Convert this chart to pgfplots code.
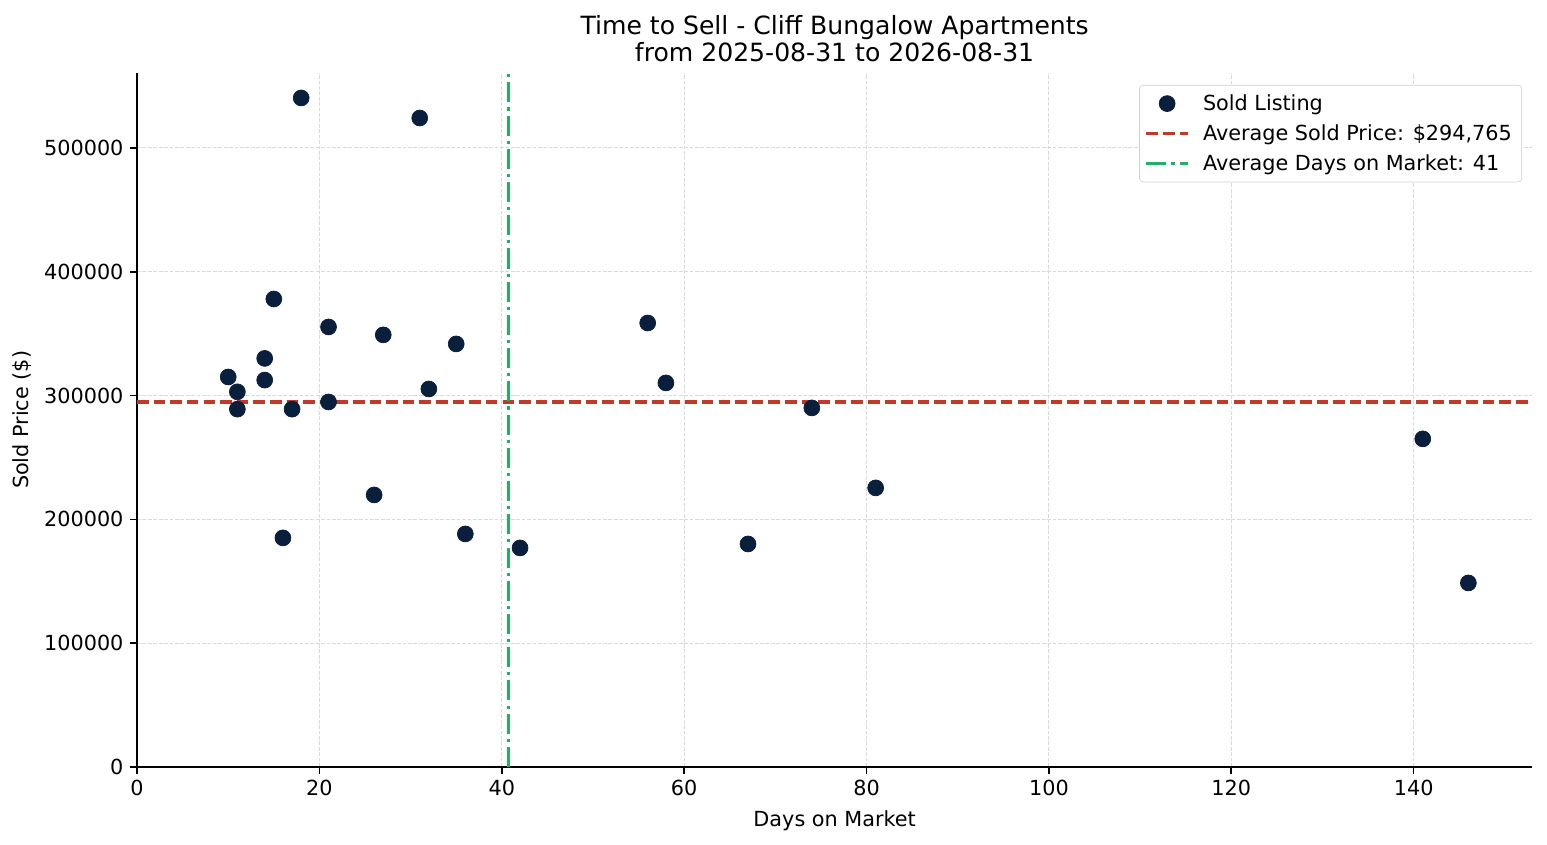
\documentclass[border=0pt]{standalone}
\usepackage{pgfplots}
\pgfplotsset{compat=1.18}
\usepackage{fontspec}
\setmainfont{DejaVu Sans}
\setsansfont{DejaVu Sans}
\definecolor{navy}{HTML}{0A1F3C}
\definecolor{avgred}{HTML}{C0392B}
\definecolor{avggreen}{HTML}{27AE60}
\definecolor{gridgray}{HTML}{DADADA}

\tikzset{
  redavg/.style={avgred, line width=1.7pt, dash pattern=on 6.4pt off 2.8pt},
  greenavg/.style={avggreen, line width=1.7pt, dash pattern=on 11.1pt off 2.8pt on 1.7pt off 2.8pt},
}

\begin{document}
\begin{tikzpicture}
  % page = 1547 x 845 px at 0.5538 pt per px
  \useasboundingbox (-75.9pt,-43.2pt) rectangle (780.8pt,424.7pt);
  \begin{axis}[
    scale only axis,
    width=772.6pt,
    height=384.3pt,
    xmin=0, xmax=153,
    ymin=0, ymax=560600,
    xtick={0,20,...,140},
    ytick={0,100000,...,500000},
    scaled y ticks=false,
    axis x line*=bottom,
    axis y line*=left,
    axis line style={line width=0.9pt},
    tick align=outside,
    major tick length=4pt,
    every tick/.style={black,line width=0.9pt},
    /pgf/number format/assume math mode=true,
    yticklabel style={/pgf/number format/.cd,fixed,precision=0,1000 sep={}},
    ticklabel style={font=\fontsize{11.5}{14}\selectfont},
    grid=major,
    grid style={gridgray,line width=0.55pt,dash pattern=on 2.1pt off 0.9pt},
    xlabel={Days on Market},
    ylabel={Sold Price (\$)},
    xlabel style={yshift=-1pt},
    label style={font=\fontsize{11.5}{14}\selectfont},
    title={Time to Sell - Cliff Bungalow Apartments\\from 2025-08-31 to 2026-08-31},
    title style={font=\fontsize{13.9}{15}\selectfont,align=center,yshift=-3.3pt},
    legend style={at={(0.9928,0.9827)},anchor=north east,
      draw=gray!35,rounded corners=2pt,fill=white,
      font=\fontsize{11.5}{14}\selectfont,
      inner xsep=3pt,inner ysep=2.5pt,
      nodes={inner sep=2.5pt},
      /tikz/every odd column/.append style={column sep=5pt},
      row sep=1.4pt},
    legend cell align=left,
  ]
    \addplot [only marks, mark=*, mark size=4.4pt, color=navy,
      legend image code/.code={\fill[navy] (11.5pt,0pt) circle (4.4pt);}]
      table {
      x   y
      10  315000
      11  303000
      11  289000
      14  330000
      14  312500
      15  378000
      16  185000
      17  289000
      18  540400
      21  355400
      21  294800
      26  219700
      27  349000
      31  524200
      32  305300
      35  341700
      36  188200
      42  176900
      56  358600
      58  310200
      67  180100
      74  290000
      81  225400
      141 265000
      146 148600
    };
    \addlegendentry{Sold Listing}
    \addplot [redavg,
      legend image code/.code={\draw[redavg] (0pt,0pt) -- (23pt,0pt);}]
      coordinates {(0,294765) (153,294765)};
    \addlegendentry{Average Sold Price: \$294,765}
    \addplot [greenavg,
      legend image code/.code={\draw[greenavg] (0pt,0pt) -- (23pt,0pt);}]
      coordinates {(40.7,0) (40.7,560600)};
    \addlegendentry{Average Days on Market: 41}
  \end{axis}
\end{tikzpicture}
\end{document}
